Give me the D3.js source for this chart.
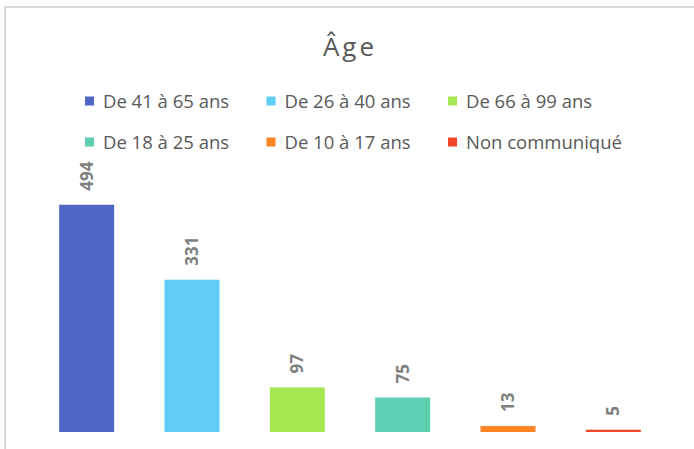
<!DOCTYPE html>
<html>
<head>
<meta charset="utf-8">
<script src="https://cdn.jsdelivr.net/npm/d3@7"></script>
<style>
  body { margin: 0; background: #fff; }
  text { font-family: "Open Sans", sans-serif; }
</style>
</head>
<body>
<div id="container"></div>
<script>
const categories = [
  "De 41 à 65 ans",
  "De 26 à 40 ans",
  "De 66 à 99 ans",
  "De 18 à 25 ans",
  "De 10 à 17 ans",
  "Non communiqué"
];
const values = [494, 331, 97, 75, 13, 5];
const colors = ["#4e66c7", "#5fcdf4", "#a6e853", "#5ecfb0", "#ff8424", "#f0472a"];
const title = "Âge";

const data = categories.map((c, i) => ({category: c, value: values[i], color: colors[i]}));

const width = 694;
const height = 449;

const svg = d3.select("#container")
  .append("svg")
  .attr("width", width)
  .attr("height", height);

// chart frame (right and bottom edges fall outside the picture)
svg.append("rect")
  .attr("x", 5)
  .attr("y", 7)
  .attr("width", 720)
  .attr("height", 460)
  .attr("fill", "#fff")
  .attr("stroke", "#d9d9d9")
  .attr("stroke-width", 2);

svg.append("text")
  .attr("x", 350)
  .attr("y", 56)
  .attr("text-anchor", "middle")
  .attr("font-size", 26)
  .attr("letter-spacing", 3)
  .attr("fill", "#595959")
  .text(title);

// legend: 3 columns, 2 rows
const legend = svg.append("g")
  .selectAll("g")
  .data(data)
  .enter()
  .append("g")
  .attr("transform", (d, i) =>
    "translate(" + (85 + (i % 3) * 181.5) + "," + (96.5 + Math.floor(i / 3) * 41) + ")");

legend.append("rect")
  .attr("width", 9)
  .attr("height", 9)
  .attr("fill", d => d.color);

legend.append("text")
  .attr("x", 18)
  .attr("y", 11.5)
  .attr("font-size", 18.5)
  .attr("fill", "#595959")
  .text(d => d.category);

const x = d3.scaleBand()
  .domain(categories)
  .range([34, 666])
  .paddingInner(0.478)
  .paddingOuter(0.239);

const y = d3.scaleLinear()
  .domain([0, 500])
  .range([432, 202]);

svg.selectAll(".bar")
  .data(data)
  .enter()
  .append("rect")
  .attr("class", "bar")
  .attr("x", d => x(d.category))
  .attr("width", x.bandwidth())
  .attr("y", d => y(d.value))
  .attr("height", d => y(0) - y(d.value))
  .attr("fill", d => d.color);

svg.selectAll(".label")
  .data(data)
  .enter()
  .append("text")
  .attr("class", "label")
  .attr("transform", d =>
    "translate(" + (x(d.category) + x.bandwidth() / 2 + 6) + "," + (y(d.value) - 14) + ") rotate(-90)")
  .attr("font-size", 17)
  .attr("font-weight", "bold")
  .attr("fill", "#7f7f7f")
  .text(d => d.value);
</script>
</body>
</html>
